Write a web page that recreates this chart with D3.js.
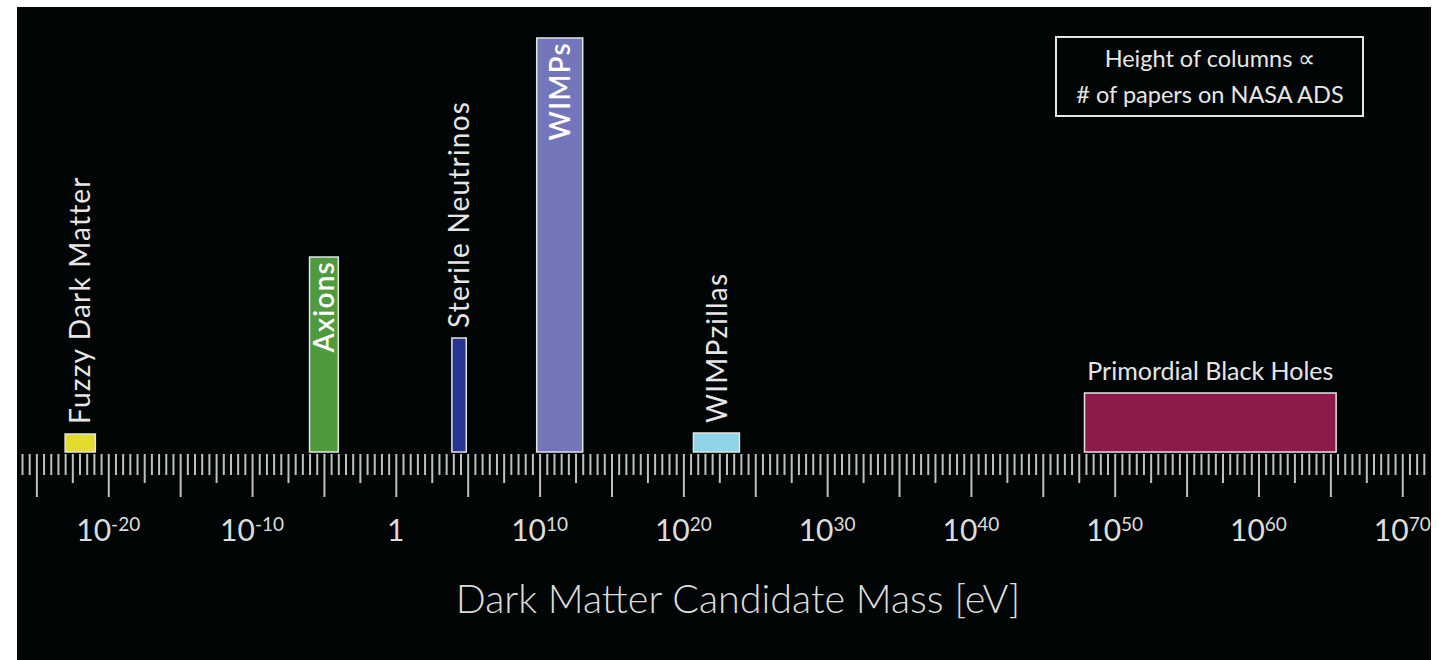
<!DOCTYPE html>
<html>
<head>
<meta charset="utf-8">
<script src="https://cdn.jsdelivr.net/npm/d3@7"></script>
<style>
body { margin: 0; background: #fff; }
text { font-family: Lato, "Open Sans", sans-serif; fill: #e6e6e6; }
</style>
</head>
<body>
<script>
// dark matter candidates
var candidates = ["Fuzzy Dark Matter", "Axions", "Sterile Neutrinos", "WIMPs", "WIMPzillas", "Primordial Black Holes"];
// mass range of each candidate, as log10 of the mass in eV
var massLowExp = [-23, -6, 3.9, 9.8, 20.7, 47.9];
var massHighExp = [-20.9, -4, 4.9, 13, 23.9, 65.4];
// column height, relative number of papers
var papers = [18, 195, 114, 414, 19, 59];
var colors = ["#e4dc2a", "#4f9a3d", "#283593", "#7376bb", "#8fd3e6", "#8e1a4b"];
// labelled ticks, log10 of eV
var labelExp = [-20, -10, 0, 10, 20, 30, 40, 50, 60, 70];
var legendLines = ["Height of columns \u221d", "# of papers on NASA ADS"];
var axisTitle = "Dark Matter Candidate Mass [eV]";

var W = 1444, H = 660;
var axisY = 454;

var svg = d3.select("body").append("svg")
    .attr("width", W)
    .attr("height", H);

// black panel
svg.append("rect")
    .attr("x", 17)
    .attr("y", 7)
    .attr("width", 1414)
    .attr("height", H - 7)
    .attr("fill", "#020505");

// scales
var x = d3.scaleLog()
    .domain([1e-26, 1e72])
    .range([22, 1431]);

var y = d3.scaleLinear()
    .domain([0, 414])
    .range([452, 38]);

function pow10(e) {
    return Math.pow(10, e);
}

//---------axis-----------------------//
// a tick every half decade, longer every 2.5 and 5 decades
var tickExp = d3.range(-52, 144).map(function (k) { return k / 2; });

var xAxis = d3.axisBottom(x)
    .tickValues(tickExp.map(pow10))
    .tickSize(21)
    .tickFormat("");

var axisG = svg.append("g")
    .attr("transform", "translate(0," + axisY + ")")
    .call(xAxis);

axisG.select(".domain").remove();
axisG.selectAll(".tick line")
    .attr("stroke", "#c0c0c0")
    .attr("stroke-width", 2)
    .attr("y2", function (d) {
        var e = Math.round(Math.log10(d) * 2) / 2;
        if (e % 5 === 0) return 43;
        if (e % 2.5 === 0) return 29;
        return 21;
    });

// tick labels 10^n
svg.append("g")
    .selectAll("text")
    .data(labelExp)
    .join("text")
    .attr("x", function (d) { return x(pow10(d)); })
    .attr("y", 541)
    .attr("text-anchor", "middle")
    .style("font-size", "30px")
    .style("fill", "#dcdcdc")
    .each(function (d) {
        var t = d3.select(this);
        if (d === 0) {
            t.text("1");
        } else {
            t.append("tspan").text("10");
            t.append("tspan")
                .attr("dy", -10)
                .style("font-size", "19px")
                .text(d);
        }
    });

// axis title
svg.append("text")
    .attr("x", 738)
    .attr("y", 613)
    .attr("text-anchor", "middle")
    .style("font-size", "39.5px")
    .style("font-weight", 300)
    .style("fill", "#dcdcdc")
    .text(axisTitle);

//-------------columns----------//
var bars = candidates.map(function (name, i) {
    return {
        name: name,
        x0: x(pow10(massLowExp[i])),
        x1: x(pow10(massHighExp[i])),
        top: y(papers[i]),
        color: colors[i]
    };
});

svg.append("g")
    .selectAll("rect")
    .data(bars)
    .join("rect")
    .attr("x", function (d) { return d.x0; })
    .attr("y", function (d) { return d.top; })
    .attr("width", function (d) { return d.x1 - d.x0; })
    .attr("height", function (d) { return y(0) - d.top; })
    .attr("fill", function (d) { return d.color; })
    .attr("stroke", "#e4e4e4")
    .attr("stroke-width", 1.5);

// labels: horizontal over wide columns, inside tall columns, else above
svg.append("g")
    .selectAll("text")
    .data(bars)
    .join("text")
    .text(function (d) { return d.name; })
    .each(function (d) {
        var t = d3.select(this);
        var cx = (d.x0 + d.x1) / 2;
        var h = y(0) - d.top;
        if (d.x1 - d.x0 > 100) {
            t.attr("x", cx).attr("y", d.top - 13)
                .attr("text-anchor", "middle")
                .style("font-size", "25px");
            return;
        }
        t.style("font-size", "28px").style("letter-spacing", "1.2px");
        var len = this.getComputedTextLength();
        if (h > len + 20) {
            t.attr("transform", "translate(" + cx + "," + (d.top + 4) + ") rotate(-90)")
                .attr("text-anchor", "end")
                .attr("dy", "0.36em")
                .style("fill", "#ffffff")
                .style("font-weight", 600);
        } else {
            t.attr("transform", "translate(" + cx + "," + (d.top - 10) + ") rotate(-90)")
                .attr("text-anchor", "start")
                .attr("dy", "0.36em");
        }
    });

//-------------legend box----------//
svg.append("rect")
    .attr("x", 1056)
    .attr("y", 37)
    .attr("width", 307)
    .attr("height", 79)
    .attr("fill", "none")
    .attr("stroke", "#e6e6e6")
    .attr("stroke-width", 2);

svg.append("g")
    .selectAll("text")
    .data(legendLines)
    .join("text")
    .attr("x", 1210)
    .attr("y", function (d, i) { return 67 + i * 36; })
    .attr("text-anchor", "middle")
    .style("font-size", "23.5px")
    .text(function (d) { return d; });
</script>
</body>
</html>
